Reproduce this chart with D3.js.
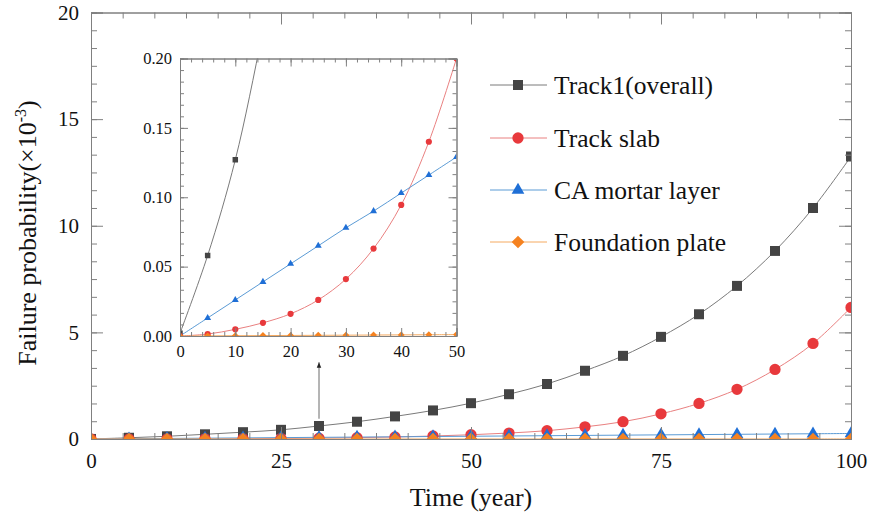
<!DOCTYPE html>
<html><head><meta charset="utf-8">
<script src="https://cdn.jsdelivr.net/npm/d3@7/dist/d3.min.js"></script>
<style>body{margin:0;background:#fff}svg{display:block}text{font-family:"Liberation Serif","Times New Roman",serif}</style>
</head><body>
<script>
const years = [0,5,10,15,20,25,30,35,40,45,50,55,60,65,70,75,80,85,90,95,100];
const track1 = [0.002,0.058,0.127,0.22,0.32,0.43,0.61,0.81,1.06,1.34,1.68,2.10,2.58,3.20,3.90,4.79,5.85,7.18,8.82,10.83,13.25];
const trackSlab = [0,0.0014,0.0048,0.0095,0.016,0.026,0.041,0.063,0.0945,0.14,0.20,0.28,0.39,0.57,0.81,1.18,1.67,2.33,3.26,4.48,6.17];
const caMortar = [0,0.013,0.026,0.039,0.052,0.065,0.078,0.090,0.103,0.116,0.129,0.142,0.155,0.168,0.181,0.194,0.207,0.220,0.233,0.246,0.259];
const foundation = [0,0.0001,0.0002,0.0003,0.0004,0.0005,0.0006,0.0007,0.0008,0.0009,0.001,0.0011,0.0012,0.0013,0.0014,0.0015,0.0016,0.0017,0.0018,0.0019,0.002];
const seriesNames = ["Track1(overall)","Track slab","CA mortar layer","Foundation plate"];
const xTicks = [0,25,50,75,100];
const yTicks = [0,5,10,15,20];
const insetXTicks = [0,10,20,30,40,50];
const insetYTicks = [0,0.05,0.10,0.15,0.20];
const xLabel = "Time (year)";

const W=869,H=517;
const svg=d3.select("body").append("svg").attr("width",W).attr("height",H);
const styles=[
 {line:"#7a7a7a",fill:"#444",sym:"square"},
 {line:"#e98080",fill:"#e8393c",sym:"circle"},
 {line:"#5b9bd5",fill:"#1f6fd6",sym:"triangle"},
 {line:"#f5aa60",fill:"#f58220",sym:"diamond"}];
const data=[track1,trackSlab,caMortar,foundation];

function sym(type,scale){
  const s={square:100,circle:100,triangle:70,diamond:80}[type]*scale;
  const t={square:d3.symbolSquare,circle:d3.symbolCircle,triangle:d3.symbolTriangle,diamond:d3.symbolSquare}[type];
  return d3.symbol().type(t).size(s)();
}
const axisColor="#808080";
function frame(g,x,y,xMaj,xMin,yMaj,yMin,majL,minL,fmtY,fs,xOff,yOff){
  const [x0,x1]=x.range(),[y0,y1]=y.range();
  const mk=(ax,vals,len,fmt)=>ax.tickValues(vals).tickSize(-len).tickFormat(fmt);
  g.append("g").attr("transform",`translate(0,${y0})`).call(mk(d3.axisBottom(x),xMaj,majL,d3.format("d")).tickPadding(xOff));
  g.append("g").attr("transform",`translate(0,${y0})`).call(mk(d3.axisBottom(x),xMin,minL,""));
  g.append("g").attr("transform",`translate(0,${y1})`).call(mk(d3.axisTop(x),xMaj,majL,""));
  g.append("g").attr("transform",`translate(0,${y1})`).call(mk(d3.axisTop(x),xMin,minL,""));
  g.append("g").attr("transform",`translate(${x0},0)`).call(mk(d3.axisLeft(y),yMaj,majL,fmtY).tickPadding(yOff));
  g.append("g").attr("transform",`translate(${x0},0)`).call(mk(d3.axisLeft(y),yMin,minL,""));
  g.append("g").attr("transform",`translate(${x1},0)`).call(mk(d3.axisRight(y),yMaj,majL,""));
  g.append("g").attr("transform",`translate(${x1},0)`).call(mk(d3.axisRight(y),yMin,minL,""));
  g.selectAll(".domain").attr("stroke",axisColor);
  g.selectAll(".tick line").attr("stroke",axisColor);
  g.selectAll(".tick text").attr("fill","#111").style("font-size",fs+"px").style("font-family",'"Liberation Serif",serif');
}
function plot(g,x,y,clipId,scale,n){
  const [x0,x1]=x.range(),[y0,y1]=y.range();
  svg.append("clipPath").attr("id",clipId).append("rect").attr("x",x0).attr("y",y1).attr("width",x1-x0).attr("height",y0-y1);
  const pg=g.append("g").attr("clip-path",`url(#${clipId})`);
  data.forEach((d,i)=>{
    const pts=years.slice(0,n).map((t,j)=>[t,d[j]]);
    pg.append("path").attr("d",d3.line().x(p=>x(p[0])).y(p=>y(p[1])).curve(d3.curveCatmullRom)(pts))
      .attr("fill","none").attr("stroke",styles[i].line).attr("stroke-width",1);
  });
  data.forEach((d,i)=>{
    const pts=years.slice(0,n).map((t,j)=>[t,d[j]]);
    pg.selectAll(null).data(pts).enter().append("path").attr("d",sym(styles[i].sym,scale))
      .attr("transform",p=>`translate(${x(p[0])},${y(p[1])})`+(styles[i].sym==="diamond"?" rotate(45)":""))
      .attr("fill",styles[i].fill);
  });
}
// main
const x=d3.scaleLinear().domain([0,100]).range([91,851]);
const y=d3.scaleLinear().domain([0,20]).range([439,12.5]);
const main=svg.append("g");
plot(main,x,y,"clipMain",1,years.length);
frame(main,x,y,xTicks,d3.range(0,100.01,25/6),yTicks,d3.range(0,20.01,5/6),12,6,d3.format("d"),21,14,12);
// arrow
svg.append("defs").append("marker").attr("id","arr").attr("viewBox","0 0 10 10").attr("refX",10).attr("refY",5)
  .attr("markerWidth",7).attr("markerHeight",7).attr("orient","auto").append("path").attr("d","M0,1 L10,5 L0,9 Z").attr("fill","#222");
svg.append("line").attr("x1",x(30)).attr("x2",x(30)).attr("y1",y(0.95)).attr("y2",y(3.6))
  .attr("stroke","#444").attr("stroke-width",0.8).attr("marker-end","url(#arr)");
// inset
const ix=d3.scaleLinear().domain([0,50]).range([180,456.5]);
const iy=d3.scaleLinear().domain([0,0.2]).range([336,58.5]);
const inset=svg.append("g");
inset.append("rect").attr("x",180).attr("y",58.5).attr("width",276.5).attr("height",277.5).attr("fill","#fff");
plot(inset,ix,iy,"clipInset",0.3,11);
frame(inset,ix,iy,insetXTicks,d3.range(0,50.01,2),insetYTicks,d3.range(0,0.2001,0.05/6),8,4,d3.format(".2f"),16.5,9,8);
// legend
const lg=svg.append("g");
seriesNames.forEach((s,i)=>{
  const yy=[85,138,190,242][i];
  lg.append("line").attr("x1",490).attr("x2",547).attr("y1",yy).attr("y2",yy).attr("stroke",styles[i].line).attr("stroke-width",1);
  lg.append("path").attr("d",sym(styles[i].sym,1)).attr("transform",`translate(518,${yy})`+(styles[i].sym==="diamond"?" rotate(45)":"")).attr("fill",styles[i].fill);
  lg.append("text").attr("x",554).attr("y",yy+8.5).attr("font-size",25.5).attr("fill","#111").text(s);
});
// axis titles
svg.append("text").attr("x",471).attr("y",506).attr("text-anchor","middle").attr("font-size",26).attr("fill","#111").text(xLabel);
const yl=svg.append("text").attr("transform","translate(36,233) rotate(-90)").attr("text-anchor","middle").attr("font-size",26).attr("fill","#111");
yl.append("tspan").text("Failure probability(×10");
yl.append("tspan").attr("dy",-10).attr("font-size",16).text("-3");
yl.append("tspan").attr("dy",10).text(")");
</script>
</body></html>
